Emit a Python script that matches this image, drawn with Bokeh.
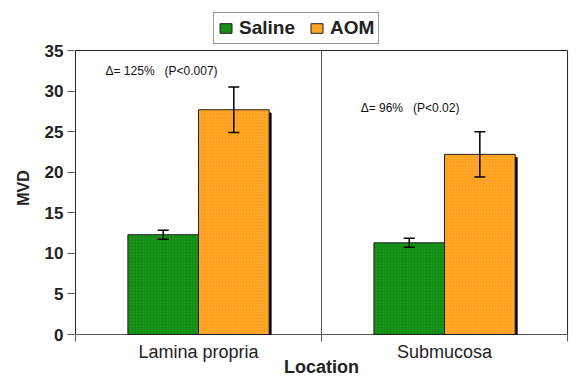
from bokeh.plotting import figure
from bokeh.models import (ColumnDataSource, Whisker, TeeHead, FixedTicker, Label,
                          Legend, LegendItem, Range1d)
from bokeh.embed import file_html
from bokeh.resources import INLINE

# ---- data ----
locations = ["Lamina propria", "Submucosa"]
loc_centers = [0.5, 1.5]
loc_bounds = [0, 1, 2]
saline_mean = [12.3, 11.3]
saline_err = [0.55, 0.55]
aom_mean = [27.7, 22.2]
aom_err = [2.8, 2.8]
annotations = ["\u0394= 125%\u00a0\u00a0\u00a0(P<0.007)", "\u0394= 96%\u00a0\u00a0\u00a0(P<0.02)"]
y_ticks = [0, 5, 10, 15, 20, 25, 30, 35]
Y_MAX = 35

# ---- layout helpers (pixel targets) ----
W, H = 570, 375
LEFT = 74
TOP_PX, ZERO_PX = 50, 334          # pixel rows of y=35 and y=0
ppu = (ZERO_PX - TOP_PX) / Y_MAX
def ydat(px):
    return (ZERO_PX - px) / ppu

FONT = "Liberation Sans"
GREEN = "#128c12"
ORANGE = "#ffa11c"
AX = "#555555"
bar_w = 0.287

p = figure(width=W, height=H, output_backend="svg", toolbar_location=None,
           x_axis_location=None,
           x_range=Range1d(-0.004, 2.012), y_range=Range1d(ydat(H), ydat(0)),
           min_border_left=LEFT, min_border_right=0, min_border_top=0, min_border_bottom=0)
p.background_fill_color = "white"
p.border_fill_color = "white"
p.outline_line_color = None
p.grid.visible = False

sal_x = [c - bar_w / 2 for c in loc_centers]
aom_x = [c + bar_w / 2 for c in loc_centers]

src = ColumnDataSource(dict(
    sal_x=sal_x, aom_x=aom_x,
    sal=saline_mean, aom=aom_mean,
    sal_lo=[m - e for m, e in zip(saline_mean, saline_err)],
    sal_hi=[m + e for m, e in zip(saline_mean, saline_err)],
    aom_lo=[m - e for m, e in zip(aom_mean, aom_err)],
    aom_hi=[m + e for m, e in zip(aom_mean, aom_err)],
    shadow_x=[x + 0.008 for x in aom_x],
    shadow_top=[m - 0.4 for m in aom_mean],
))

# plot-area box and category dividers
x0, x1 = loc_bounds[0], loc_bounds[-1]
p.segment(x0=[x0, x0, x1], y0=[Y_MAX, 0, 0], x1=[x1, x0, x1], y1=[Y_MAX, Y_MAX, Y_MAX],
          line_color="#222222", line_width=1)
p.segment(x0=loc_bounds[1:-1], y0=[0] * (len(loc_bounds) - 2),
          x1=loc_bounds[1:-1], y1=[Y_MAX] * (len(loc_bounds) - 2),
          line_color=AX, line_width=1)
# x axis line and its tick marks at the category boundaries
p.segment(x0=[x0], y0=[0], x1=[x1], y1=[0], line_color=AX, line_width=1.2)
p.segment(x0=loc_bounds, y0=[0] * len(loc_bounds), x1=loc_bounds,
          y1=[ydat(ZERO_PX + 7)] * len(loc_bounds), line_color=AX, line_width=1)

# shadow of AOM bars
p.vbar(x="shadow_x", top="shadow_top", width=bar_w, bottom=0, source=src,
       fill_color="black", line_color="black")
r_sal = p.vbar(x="sal_x", top="sal", width=bar_w, source=src, fill_color=GREEN,
               line_color="#222222", line_width=1,
               hatch_pattern="dot", hatch_color="#3aa83a", hatch_scale=3, hatch_weight=1, hatch_alpha=0.6)
r_aom = p.vbar(x="aom_x", top="aom", width=bar_w, source=src, fill_color=ORANGE,
               line_color="#222222", line_width=1,
               hatch_pattern="dot", hatch_color="#ffc060", hatch_scale=3, hatch_weight=1, hatch_alpha=0.6)

for base, lo, hi in (("sal_x", "sal_lo", "sal_hi"), ("aom_x", "aom_lo", "aom_hi")):
    w = Whisker(base=base, lower=lo, upper=hi, source=src, line_color="black", line_width=1.5,
                level="overlay",
                upper_head=TeeHead(size=11, line_color="black", line_width=1.5),
                lower_head=TeeHead(size=11, line_color="black", line_width=1.5))
    p.add_layout(w)

# y axis
p.yaxis.ticker = FixedTicker(ticks=y_ticks)
p.yaxis.axis_line_color = None
p.yaxis.axis_label = "MVD"
p.yaxis.axis_label_text_font = FONT
p.yaxis.axis_label_text_font_style = "bold"
p.yaxis.axis_label_text_font_size = "16px"
p.yaxis.axis_label_text_color = "#222222"
p.yaxis.axis_label_standoff = 10
p.yaxis.major_label_text_font = FONT
p.yaxis.major_label_text_font_style = "bold"
p.yaxis.major_label_text_font_size = "17px"
p.yaxis.major_label_text_color = "#222222"
p.yaxis.major_tick_in = 0
p.yaxis.major_tick_out = 7
p.yaxis.minor_tick_line_color = None
p.yaxis.major_tick_line_color = AX
p.yaxis.major_label_standoff = 4

# category labels and x title
for c, name in zip(loc_centers, locations):
    p.add_layout(Label(x=c, y=ydat(351), text=name, text_font=FONT, text_font_size="18px",
                       text_align="center", text_baseline="middle", text_color="#222222"))
p.add_layout(Label(x=(x0 + x1) / 2, y=ydat(366), text="Location", text_font=FONT,
                   text_font_style="bold", text_font_size="18px", text_align="center",
                   text_baseline="middle", text_color="#222222"))

# annotations
ann_x = [0.122, 1.159]
ann_y = [ydat(63), ydat(100)]
for ax_, ay_, t in zip(ann_x, ann_y, annotations):
    p.add_layout(Label(x=ax_, y=ay_, text=t, text_font=FONT, text_font_size="12px",
                       text_baseline="top", text_color="#111111"))

legend = Legend(items=[LegendItem(label="Saline", renderers=[r_sal]),
                       LegendItem(label="AOM", renderers=[r_aom])],
                orientation="horizontal", location=(213 - LEFT, H - 44),
                label_text_font=FONT, label_text_font_style="bold", label_text_font_size="19px",
                label_text_color="#222222",
                border_line_color="#333333", border_line_width=1,
                glyph_width=15, glyph_height=12, spacing=14, padding=4, margin=0,
                label_standoff=6, label_height=19, background_fill_alpha=1)
p.add_layout(legend, "center")

open("out.html", "w").write(file_html(p, INLINE))
